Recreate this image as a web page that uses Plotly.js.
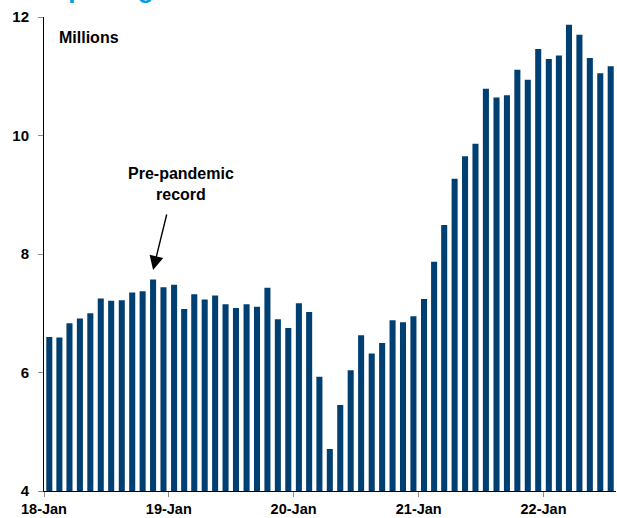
<!DOCTYPE html>
<html>
<head>
<meta charset="utf-8">
<script src="https://cdn.plot.ly/plotly-3.0.1.min.js"></script>
<style>
  html, body { margin: 0; padding: 0; background: #ffffff; }
  #chart { width: 617px; height: 518px; }
</style>
</head>
<body>
<div id="chart"></div>
<script>
// Monthly job openings, millions
const months = [
  '2018-01','2018-02','2018-03','2018-04','2018-05','2018-06','2018-07','2018-08','2018-09','2018-10','2018-11','2018-12',
  '2019-01','2019-02','2019-03','2019-04','2019-05','2019-06','2019-07','2019-08','2019-09','2019-10','2019-11','2019-12',
  '2020-01','2020-02','2020-03','2020-04','2020-05','2020-06','2020-07','2020-08','2020-09','2020-10','2020-11','2020-12',
  '2021-01','2021-02','2021-03','2021-04','2021-05','2021-06','2021-07','2021-08','2021-09','2021-10','2021-11','2021-12',
  '2022-01','2022-02','2022-03','2022-04','2022-05','2022-06','2022-07'
];
const openings = [
  6.60, 6.59, 6.83, 6.91, 7.00, 7.25, 7.21, 7.22, 7.35, 7.37, 7.57, 7.44,
  7.48, 7.07, 7.32, 7.23, 7.30, 7.15, 7.09, 7.15, 7.11, 7.43, 6.90, 6.75,
  7.17, 7.02, 5.93, 4.71, 5.45, 6.04, 6.63, 6.32, 6.50, 6.88, 6.85, 6.95,
  7.24, 7.87, 8.49, 9.27, 9.65, 9.86, 10.79, 10.64, 10.68, 11.11, 10.94, 11.46,
  11.29, 11.35, 11.87, 11.70, 11.31, 11.05, 11.17
];
const yTicks = [4, 6, 8, 10, 12];
const recordMonth = '2018-11';

const FONT = 'Liberation Sans, Arial, sans-serif';
const recordIdx = months.indexOf(recordMonth);

const trace = {
  type: 'bar',
  x: months,
  y: openings,
  xperiod: 'M1',
  xperiodalignment: 'middle',
  marker: { color: '#003f72', line: { width: 0 } },
  hoverinfo: 'x+y'
};

const layout = {
  width: 617,
  height: 518,
  margin: { l: 44, r: 1, t: 17, b: 27 },
  paper_bgcolor: '#ffffff',
  plot_bgcolor: '#ffffff',
  showlegend: false,
  bargap: 0.4,
  font: { family: FONT, color: '#000000' },
  xaxis: {
    type: 'date',
    range: ['2018-01-01', '2022-08-01'],
    tick0: '2018-01-01',
    dtick: 'M12',
    tickformat: '%y-%b',
    ticks: 'outside',
    ticklen: 5,
    tickcolor: '#8c8c8c',
    showline: true,
    linecolor: '#000000',
    linewidth: 1,
    showgrid: false,
    zeroline: false,
    tickfont: { family: FONT, size: 14.5, color: '#000000', weight: 'bold' }
  },
  yaxis: {
    range: [4, 12],
    tickvals: yTicks,
    ticktext: yTicks.map(String),
    ticks: 'outside',
    ticklen: 5,
    tickcolor: '#8c8c8c',
    ticklabelstandoff: 6,
    showline: true,
    linecolor: '#000000',
    linewidth: 1,
    showgrid: false,
    zeroline: false,
    tickfont: { family: FONT, size: 15, color: '#000000', weight: 'bold' }
  },
  annotations: [
    {
      text: 'Job openings',
      xref: 'paper', yref: 'paper',
      x: -0.082, y: 1.023,
      xanchor: 'left', yanchor: 'bottom',
      showarrow: false,
      font: { family: FONT, size: 26, color: '#00a0e3', weight: 'bold' }
    },
    {
      text: 'Millions',
      xref: 'paper', yref: 'paper',
      x: 0.022, y: 0.956,
      xanchor: 'left', yanchor: 'middle',
      showarrow: false,
      font: { family: FONT, size: 16, color: '#000000', weight: 'bold' }
    },
    {
      text: 'Pre-pandemic<br>record',
      xref: 'paper', yref: 'paper',
      x: 0.2395, y: 0.647,
      xanchor: 'center', yanchor: 'middle',
      showarrow: false,
      font: { family: FONT, size: 16, color: '#000000', weight: 'bold' }
    },
    {
      text: '',
      xref: 'x', yref: 'y',
      x: '2018-11-16',
      y: openings[recordIdx] + 0.16,
      ax: 14, ay: -57,
      showarrow: true,
      arrowhead: 2,
      arrowsize: 2,
      arrowwidth: 1.4,
      arrowcolor: '#000000'
    }
  ]
};

Plotly.newPlot('chart', [trace], layout, { displayModeBar: false, staticPlot: true });
</script>
</body>
</html>
